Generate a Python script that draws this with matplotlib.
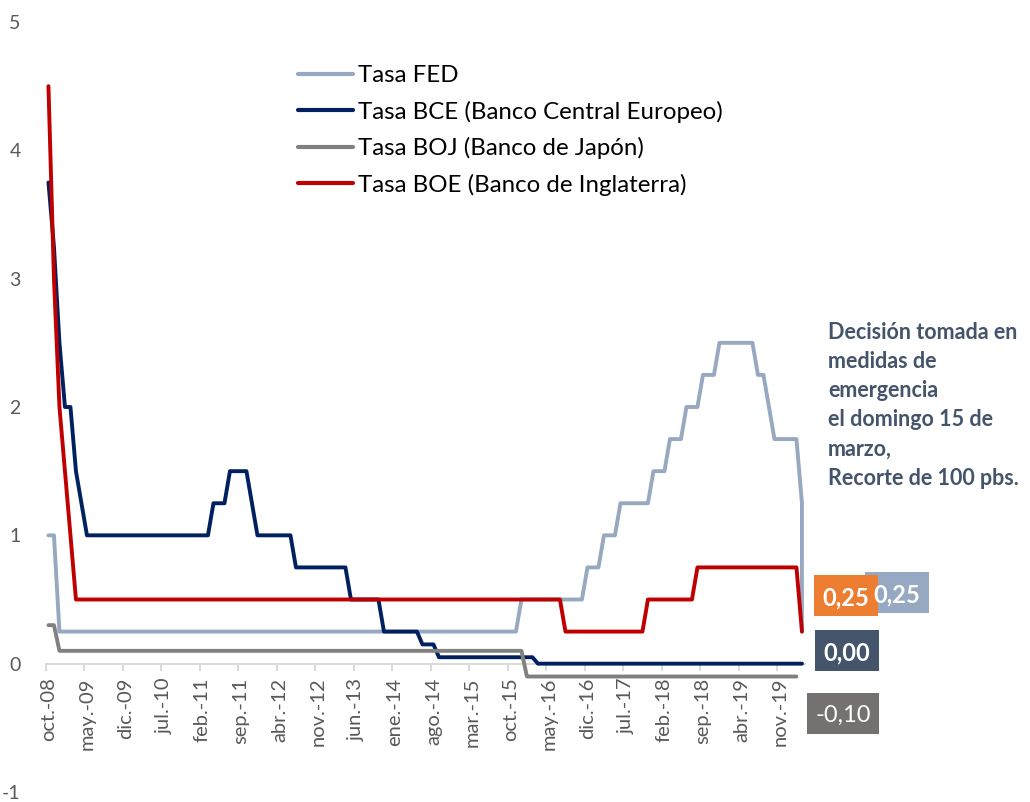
import matplotlib
matplotlib.use("Agg")
import matplotlib.pyplot as plt
from matplotlib.patches import Rectangle
import numpy as np
import pandas as pd

plt.rcParams['font.family'] = ['Lato', 'DejaVu Sans']

# ---------------- data ----------------
# monthly observations oct-2008 .. mar-2020, plus one extra observation in mar-2020 (15-mar emergency cut)
months = list(pd.period_range('2008-10', '2020-03', freq='M')) + [pd.Period('2020-03', freq='M')]

fed = [1.0, 1.0, 0.25,
       0.25, 0.25, 0.25, 0.25, 0.25, 0.25, 0.25, 0.25, 0.25, 0.25, 0.25, 0.25,  # 2009
       0.25, 0.25, 0.25, 0.25, 0.25, 0.25, 0.25, 0.25, 0.25, 0.25, 0.25, 0.25,  # 2010
       0.25, 0.25, 0.25, 0.25, 0.25, 0.25, 0.25, 0.25, 0.25, 0.25, 0.25, 0.25,  # 2011
       0.25, 0.25, 0.25, 0.25, 0.25, 0.25, 0.25, 0.25, 0.25, 0.25, 0.25, 0.25,  # 2012
       0.25, 0.25, 0.25, 0.25, 0.25, 0.25, 0.25, 0.25, 0.25, 0.25, 0.25, 0.25,  # 2013
       0.25, 0.25, 0.25, 0.25, 0.25, 0.25, 0.25, 0.25, 0.25, 0.25, 0.25, 0.25,  # 2014
       0.25, 0.25, 0.25, 0.25, 0.25, 0.25, 0.25, 0.25, 0.25, 0.25, 0.25, 0.5,   # 2015
       0.5, 0.5, 0.5, 0.5, 0.5, 0.5, 0.5, 0.5, 0.5, 0.5, 0.5, 0.75,            # 2016
       0.75, 0.75, 1.0, 1.0, 1.0, 1.25, 1.25, 1.25, 1.25, 1.25, 1.25, 1.5,      # 2017
       1.5, 1.5, 1.75, 1.75, 1.75, 2.0, 2.0, 2.0, 2.25, 2.25, 2.25, 2.5,        # 2018
       2.5, 2.5, 2.5, 2.5, 2.5, 2.5, 2.25, 2.25, 2.0, 1.75, 1.75, 1.75,         # 2019
       1.75, 1.75, 1.25, 0.25]                                                # 2020

bce = [3.75, 3.25, 2.5,
       2.0, 2.0, 1.5, 1.25, 1.0, 1.0, 1.0, 1.0, 1.0, 1.0, 1.0, 1.0,            # 2009
       1.0, 1.0, 1.0, 1.0, 1.0, 1.0, 1.0, 1.0, 1.0, 1.0, 1.0, 1.0,             # 2010
       1.0, 1.0, 1.0, 1.25, 1.25, 1.25, 1.5, 1.5, 1.5, 1.5, 1.25, 1.0,         # 2011
       1.0, 1.0, 1.0, 1.0, 1.0, 1.0, 0.75, 0.75, 0.75, 0.75, 0.75, 0.75,       # 2012
       0.75, 0.75, 0.75, 0.75, 0.5, 0.5, 0.5, 0.5, 0.5, 0.5, 0.25, 0.25,       # 2013
       0.25, 0.25, 0.25, 0.25, 0.25, 0.15, 0.15, 0.15, 0.05, 0.05, 0.05, 0.05, # 2014
       0.05, 0.05, 0.05, 0.05, 0.05, 0.05, 0.05, 0.05, 0.05, 0.05, 0.05, 0.05, # 2015
       0.05, 0.05, 0.0, 0.0, 0.0, 0.0, 0.0, 0.0, 0.0, 0.0, 0.0, 0.0,           # 2016
       0.0, 0.0, 0.0, 0.0, 0.0, 0.0, 0.0, 0.0, 0.0, 0.0, 0.0, 0.0,             # 2017
       0.0, 0.0, 0.0, 0.0, 0.0, 0.0, 0.0, 0.0, 0.0, 0.0, 0.0, 0.0,             # 2018
       0.0, 0.0, 0.0, 0.0, 0.0, 0.0, 0.0, 0.0, 0.0, 0.0, 0.0, 0.0,             # 2019
       0.0, 0.0, 0.0, 0.0]                                                    # 2020

boj = [0.3, 0.3, 0.1,
       0.1, 0.1, 0.1, 0.1, 0.1, 0.1, 0.1, 0.1, 0.1, 0.1, 0.1, 0.1,             # 2009
       0.1, 0.1, 0.1, 0.1, 0.1, 0.1, 0.1, 0.1, 0.1, 0.1, 0.1, 0.1,             # 2010
       0.1, 0.1, 0.1, 0.1, 0.1, 0.1, 0.1, 0.1, 0.1, 0.1, 0.1, 0.1,             # 2011
       0.1, 0.1, 0.1, 0.1, 0.1, 0.1, 0.1, 0.1, 0.1, 0.1, 0.1, 0.1,             # 2012
       0.1, 0.1, 0.1, 0.1, 0.1, 0.1, 0.1, 0.1, 0.1, 0.1, 0.1, 0.1,             # 2013
       0.1, 0.1, 0.1, 0.1, 0.1, 0.1, 0.1, 0.1, 0.1, 0.1, 0.1, 0.1,             # 2014
       0.1, 0.1, 0.1, 0.1, 0.1, 0.1, 0.1, 0.1, 0.1, 0.1, 0.1, 0.1,             # 2015
       -0.1, -0.1, -0.1, -0.1, -0.1, -0.1, -0.1, -0.1, -0.1, -0.1, -0.1, -0.1, # 2016
       -0.1, -0.1, -0.1, -0.1, -0.1, -0.1, -0.1, -0.1, -0.1, -0.1, -0.1, -0.1, # 2017
       -0.1, -0.1, -0.1, -0.1, -0.1, -0.1, -0.1, -0.1, -0.1, -0.1, -0.1, -0.1, # 2018
       -0.1, -0.1, -0.1, -0.1, -0.1, -0.1, -0.1, -0.1, -0.1, -0.1, -0.1, -0.1, # 2019
       -0.1, -0.1, np.nan, np.nan]                                            # 2020

boe = [4.5, 3.0, 2.0,
       1.5, 1.0, 0.5, 0.5, 0.5, 0.5, 0.5, 0.5, 0.5, 0.5, 0.5, 0.5,             # 2009
       0.5, 0.5, 0.5, 0.5, 0.5, 0.5, 0.5, 0.5, 0.5, 0.5, 0.5, 0.5,             # 2010
       0.5, 0.5, 0.5, 0.5, 0.5, 0.5, 0.5, 0.5, 0.5, 0.5, 0.5, 0.5,             # 2011
       0.5, 0.5, 0.5, 0.5, 0.5, 0.5, 0.5, 0.5, 0.5, 0.5, 0.5, 0.5,             # 2012
       0.5, 0.5, 0.5, 0.5, 0.5, 0.5, 0.5, 0.5, 0.5, 0.5, 0.5, 0.5,             # 2013
       0.5, 0.5, 0.5, 0.5, 0.5, 0.5, 0.5, 0.5, 0.5, 0.5, 0.5, 0.5,             # 2014
       0.5, 0.5, 0.5, 0.5, 0.5, 0.5, 0.5, 0.5, 0.5, 0.5, 0.5, 0.5,             # 2015
       0.5, 0.5, 0.5, 0.5, 0.5, 0.5, 0.5, 0.25, 0.25, 0.25, 0.25, 0.25,        # 2016
       0.25, 0.25, 0.25, 0.25, 0.25, 0.25, 0.25, 0.25, 0.25, 0.25, 0.5, 0.5,   # 2017
       0.5, 0.5, 0.5, 0.5, 0.5, 0.5, 0.5, 0.75, 0.75, 0.75, 0.75, 0.75,        # 2018
       0.75, 0.75, 0.75, 0.75, 0.75, 0.75, 0.75, 0.75, 0.75, 0.75, 0.75, 0.75, # 2019
       0.75, 0.75, 0.25, 0.25]                                                # 2020

series_names = ['Tasa FED', 'Tasa BCE (Banco Central Europeo)',
                'Tasa BOJ (Banco de Japón)', 'Tasa BOE (Banco de Inglaterra)']
series_colors = ['#97A8C1', '#002060', '#808080', '#C00000']

tick_labels = ['oct.-08', 'may.-09', 'dic.-09', 'jul.-10', 'feb.-11', 'sep.-11', 'abr.-12',
               'nov.-12', 'jun.-13', 'ene.-14', 'ago.-14', 'mar.-15', 'oct.-15', 'may.-16',
               'dic.-16', 'jul.-17', 'feb.-18', 'sep.-18', 'abr.-19', 'nov.-19']
label_every = 7

last_labels = ['0,25', '0,25', '0,00', '-0,10']
note = ('Decisión tomada en\nmedidas de\nemergencia\nel domingo 15 de\nmarzo,\n'
        'Recorte de 100 pbs.')

# ---------------- figure ----------------
W, H = 1030, 802
fig = plt.figure(figsize=(W / 100, H / 100), dpi=100)

def fx(px):
    return px / W

def fy(py):
    return 1 - py / H

ax_l, ax_r, ax_t, ax_b = 45.7, 804.7, 22, 792
ax = fig.add_axes([fx(ax_l), fy(ax_b), fx(ax_r - ax_l), (ax_b - ax_t) / H])

start = months[0]
xpos = np.array([(m - start).n for m in months])

for vals, name, col in zip([fed, bce, boj, boe], series_names, series_colors):
    ax.plot(xpos, vals, color=col, lw=2.8, label=name,
            solid_joinstyle='round', solid_capstyle='round')

ax.set_ylim(-1, 5)
ax.set_xlim(-0.5, xpos.max() + 0.5)
ax.set_yticks(range(-1, 6))
ax.set_yticklabels([str(v) for v in range(-1, 6)])

label_pos = np.arange(len(tick_labels)) * label_every
ax.set_xticks(label_pos)
ax.set_xticks(label_pos - 0.5, minor=True)
ax.set_xticklabels(tick_labels)

for s in ['top', 'right', 'left']:
    ax.spines[s].set_visible(False)
ax.spines['bottom'].set_position(('data', 0))
ax.spines['bottom'].set_color('#D9D9D9')
ax.spines['bottom'].set_linewidth(1.4)
ax.spines['bottom'].set_zorder(0.5)

ax.tick_params(axis='x', which='major', length=0, pad=10, labelsize=14.5,
               labelcolor='#595959', labelrotation=90)
ax.tick_params(axis='x', which='minor', length=5, width=1.4, color='#D9D9D9', direction='out')
ax.tick_params(axis='y', length=0, pad=18, labelsize=14, labelcolor='#595959')
for lab in ax.get_xticklabels():
    lab.set_ha('center')
    lab.set_va('top')

leg = ax.legend(loc='upper left', bbox_to_anchor=(fx(298), fy(65)), bbox_transform=fig.transFigure,
                frameon=False, fontsize=17.3, handlelength=2.3, handletextpad=0.2,
                labelspacing=0.6, borderaxespad=0, borderpad=0)
for line in leg.get_lines():
    line.set_linewidth(3)

# value boxes at the right
boxes = [  # (x0, y0, x1, y1) in pixels, colour, text weight
    ((865, 572, 929, 613), '#97A9C2', 'bold'),
    ((814, 575, 878, 616), '#ED7D31', 'bold'),
    ((815, 630, 879, 671), '#44546A', 'bold'),
    ((807, 693, 879, 734), '#767171', 'normal'),
]
for (b, col, wt), txt in zip(boxes, last_labels):
    x0, y0, x1, y1 = b
    fig.patches.append(Rectangle((fx(x0), fy(y1)), fx(x1 - x0), (y1 - y0) / H,
                                 transform=fig.transFigure, facecolor=col, edgecolor='none'))
    fig.text(fx((x0 + x1) / 2), fy((y0 + y1) / 2), txt, ha='center', va='center_baseline',
             color='white', fontsize=17, fontweight=wt)

fig.text(fx(828), fy(322), note, ha='left', va='top', color='#44546A', fontsize=15.5,
         fontweight='bold', linespacing=1.48)

fig.savefig('out.png', dpi=100)
